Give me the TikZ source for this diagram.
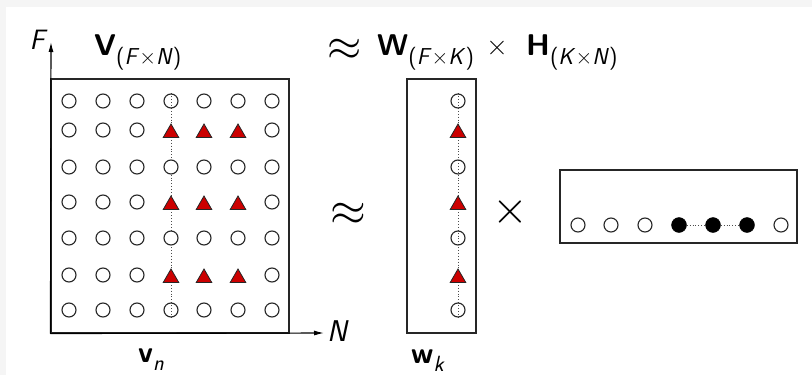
\documentclass[tikz,border=0pt]{standalone}
\usetikzlibrary{positioning, arrows.meta, shapes.geometric}
\definecolor{peakred}{RGB}{204,0,0}
\pgfdeclarelayer{paper}
\pgfdeclarelayer{guide}
\pgfsetlayers{paper,guide,main}
\newcommand{\dimsub}[2]{\raisebox{-9pt}{\fontsize{23}{23}\selectfont(\textit{#1}×\textit{#2})}}
\tikzset{
  mbox/.style   = {draw=black!85, line width=1.1pt, inner sep=0pt},
  blank/.style  = {circle, draw=black!85, line width=1.1pt, minimum size=14pt, inner sep=0pt},
  masked/.style = {blank, fill=white},
  peak/.style   = {regular polygon, regular polygon sides=3, draw=black!85, line width=0.8pt,
                   fill=peakred, minimum size=18pt, inner sep=0pt, yshift=-3pt},
  act/.style    = {circle, fill=black, draw=black, minimum size=15pt, inner sep=0pt},
  guide/.style  = {dotted, line width=0.9pt, black!70},
  arr/.style    = {-{Latex[length=10pt, width=5pt]}, line width=1.1pt},
  title/.style  = {anchor=base west, inner sep=0pt, font=\sffamily\fontsize{30}{30}\selectfont},
  vlab/.style   = {anchor=base west, inner sep=0pt, font=\sffamily\fontsize{30}{30}\selectfont}
}
\begin{document}
\begin{tikzpicture}[x=1pt, y=-1pt, font=\sffamily]
  \begin{pgfonlayer}{paper}
    \fill[black!4] (0,0) rectangle (812,375);
    \fill[white] (6,7) rectangle (812,375);
  \end{pgfonlayer}
  \useasboundingbox (0,0) rectangle (812,375);

  % V matrix with its axes
  \node[mbox, minimum width=238pt, minimum height=254pt] (vbox) at (170,206) {};
  \coordinate (ftop) at (51,42);
  \coordinate (nend) at (324,333);
  \draw[arr] (vbox.south west) -- (ftop);
  \draw[arr] (vbox.south west) -- (nend);
  \node[font=\sffamily\itshape\fontsize{28}{28}\selectfont] (flab) at (37,40) {F};
  \node[font=\sffamily\itshape\fontsize{30}{30}\selectfont] (nlab) at (337,331) {N};

  \foreach \y [count=\r] in {101,130,167,202,238,275,310}
    \foreach \x [count=\c] in {69,103,137,171,204,238,272}{
      \def\kind{blank}
      \ifnum\c=4\ifnum\r>2\ifnum\r<6\def\kind{masked}\fi\fi\fi
      \ifodd\r\else\ifnum\c>3\ifnum\c<7\def\kind{peak}\fi\fi\fi
      \node[\kind] (v-\r-\c) at (\x,\y) {};
    }
  \begin{pgfonlayer}{guide}
    \draw[guide] (v-1-4.north) -- (v-7-4.south);
  \end{pgfonlayer}

  % W column
  \node[mbox, minimum width=69pt, minimum height=254pt] (wbox) at (441.5,206) {};
  \foreach \y [count=\r] in {101,130,167,202,238,275,310}{
    \ifodd\r\def\kind{blank}\else\def\kind{peak}\fi
    \node[\kind] (w-\r) at (458,\y) {};
  }
  \begin{pgfonlayer}{guide}
    \draw[guide] (w-1.north) -- (w-7.south);
  \end{pgfonlayer}

  % H row
  \node[mbox, minimum width=237pt, minimum height=73pt] (hbox) at (678.5,206.5) {};
  \foreach \x [count=\c] in {578,611,645,679,713,747,781}{
    \def\kind{blank}
    \ifnum\c>3\ifnum\c<7\def\kind{act}\fi\fi
    \node[\kind] (h-\c) at (\x,225) {};
  }
  \draw[guide] (h-4) -- (h-5) -- (h-6);

  % operators
  \node[scale=4.6] (approxmid) at (348,214) {$\approx$};
  \node[scale=4.6] (timesmid) at (510,212) {$\times$};

  % titles
  \node[scale=4.4] (approxtop) at (345,50) {$\approx$};
  \node[title] (vtitle) at (94,55) {{\bfseries V}\dimsub{F}{N}};
  \node[title] (wtitle) at (377,55) {{\bfseries W}\dimsub{F}{K}};
  \node[title, anchor=base] (xtitle) at (497,55) {×};
  \node[title] (htitle) at (526,55) {{\bfseries H}\dimsub{K}{N}};

  % column labels
  \node[vlab] (vn) at (138,362) {{\bfseries v}\raisebox{-8pt}{\fontsize{22}{22}\selectfont\itshape n}};
  \node[vlab] (wk) at (411,363) {{\bfseries w}\raisebox{-8pt}{\fontsize{22}{22}\selectfont\itshape k}};
\end{tikzpicture}
\end{document}
